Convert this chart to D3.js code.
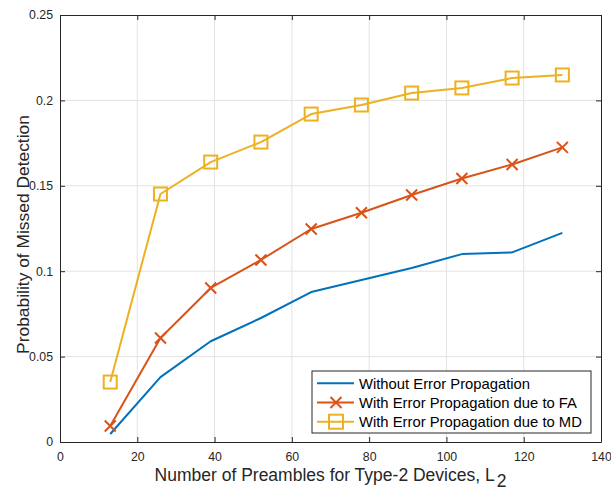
<!DOCTYPE html>
<html>
<head>
<meta charset="utf-8">
<script src="https://cdn.jsdelivr.net/npm/d3@7"></script>
<style>
  html, body { margin: 0; padding: 0; background: #fff; }
  svg { display: block; font-family: "Liberation Sans", Arial, Helvetica, sans-serif; }
</style>
</head>
<body>
<svg id="chart" width="611" height="489"></svg>
<script>
// Number of preambles L2
const preambles = [13, 26, 39, 52, 65, 78, 91, 104, 117, 130];
// Missed detection probability for each scheme
const withoutEP = [0.0047, 0.0380, 0.0590, 0.0726, 0.0878, 0.0948, 0.1019, 0.1100, 0.1110, 0.1224];
const withEPFA  = [0.0094, 0.0609, 0.0902, 0.1066, 0.1247, 0.1342, 0.1446, 0.1543, 0.1625, 0.1725];
const withEPMD  = [0.0351, 0.1452, 0.1639, 0.1756, 0.1920, 0.1973, 0.2043, 0.2073, 0.2131, 0.2149];
const xTicks = [0, 20, 40, 60, 80, 100, 120, 140];
const yTicks = [0, 0.05, 0.1, 0.15, 0.2, 0.25];
const seriesNames = ["Without Error Propagation", "With Error Propagation due to FA", "With Error Propagation due to MD"];
const seriesColors = ["#0072BD", "#D95319", "#EDB120"];
const seriesMarkers = ["none", "x", "square"];

const svg = d3.select("#chart");
const L = 60, R = 601, T = 15, B = 442;
const x = d3.scaleLinear().domain([0, 140]).range([L, R]);
const y = d3.scaleLinear().domain([0, 0.25]).range([B, T]);
const axisColor = "#262626";

// grid
const grid = svg.append("g").attr("stroke", "#e3e3e3").attr("stroke-width", 1);
xTicks.slice(1, -1).forEach(t => grid.append("line")
  .attr("x1", x(t)).attr("x2", x(t)).attr("y1", T).attr("y2", B));
yTicks.slice(1, -1).forEach(t => grid.append("line")
  .attr("x1", L).attr("x2", R).attr("y1", y(t)).attr("y2", y(t)));

// axes with inward ticks on all four sides
const fmtY = d => d === 0 ? "0" : String(d);
const axBottom = svg.append("g").attr("transform", `translate(0,${B})`)
  .call(d3.axisBottom(x).tickValues(xTicks).tickSizeInner(-5).tickSizeOuter(0).tickPadding(10));
const axLeft = svg.append("g").attr("transform", `translate(${L},0)`)
  .call(d3.axisLeft(y).tickValues(yTicks).tickFormat(fmtY).tickSizeInner(-5).tickSizeOuter(0).tickPadding(7));
const axTop = svg.append("g").attr("transform", `translate(0,${T})`)
  .call(d3.axisTop(x).tickValues(xTicks).tickSizeInner(-5).tickSizeOuter(0).tickFormat(""));
const axRight = svg.append("g").attr("transform", `translate(${R},0)`)
  .call(d3.axisRight(y).tickValues(yTicks).tickSizeInner(-5).tickSizeOuter(0).tickFormat(""));
[axBottom, axLeft, axTop, axRight].forEach(g => {
  g.selectAll("path.domain").attr("stroke", axisColor).attr("stroke-width", 1);
  g.selectAll(".tick line").attr("stroke", axisColor);
  g.selectAll(".tick text").attr("fill", axisColor).style("font-size", "12.3px")
    .style("font-family", "'Liberation Sans', Arial, sans-serif");
});

// series
const allSeries = [withoutEP, withEPFA, withEPMD];
const line = d3.line().x(d => x(d[0])).y(d => y(d[1]));

function drawMarker(g, kind, cx, cy, color, s0) {
  if (kind === "x") {
    const s = s0 || 5.5;
    g.append("path").attr("d", `M${cx - s},${cy - s}L${cx + s},${cy + s}M${cx - s},${cy + s}L${cx + s},${cy - s}`)
      .attr("stroke", color).attr("stroke-width", 2).attr("fill", "none");
  } else if (kind === "square") {
    const s = s0 || 6.5;
    g.append("rect").attr("x", cx - s).attr("y", cy - s).attr("width", 2 * s).attr("height", 2 * s)
      .attr("stroke", color).attr("stroke-width", 2).attr("fill", "none");
  }
}

allSeries.forEach((vals, i) => {
  const pts = preambles.map((p, j) => [p, vals[j]]);
  const g = svg.append("g");
  g.append("path").datum(pts).attr("d", line)
    .attr("fill", "none").attr("stroke", seriesColors[i]).attr("stroke-width", 2)
    .attr("stroke-linejoin", "round");
  pts.forEach(p => drawMarker(g, seriesMarkers[i], x(p[0]), y(p[1]), seriesColors[i]));
});

// axis labels
svg.append("text").attr("x", (L + R) / 2).attr("y", 481).attr("text-anchor", "middle")
  .attr("fill", axisColor).style("font-size", "17.5px")
  .html('Number of Preambles for Type-2 Devices, L<tspan dx="2" dy="6">2</tspan>');
svg.append("text").attr("transform", `translate(29,234.5) rotate(-90)`)
  .attr("text-anchor", "middle").attr("fill", axisColor).style("font-size", "17.4px")
  .text("Probability of Missed Detection");

// legend
const lg = svg.append("g");
const lx = 312, ly = 371, lw = 279, lh = 62;
lg.append("rect").attr("x", lx).attr("y", ly).attr("width", lw).attr("height", lh)
  .attr("fill", "#fff").attr("stroke", axisColor).attr("stroke-width", 1);
seriesNames.forEach((name, i) => {
  const yy = ly + 12.3 + i * 19.2;
  lg.append("line").attr("x1", lx + 5).attr("x2", lx + 42).attr("y1", yy).attr("y2", yy)
    .attr("stroke", seriesColors[i]).attr("stroke-width", 2);
  drawMarker(lg, seriesMarkers[i], lx + 24, yy, seriesColors[i], seriesMarkers[i] === "square" ? 7 : 5.5);
  lg.append("text").attr("x", lx + 47).attr("y", yy + 5.3).attr("fill", "#000")
    .style("font-size", "14.8px").text(name);
});
</script>
</body>
</html>
